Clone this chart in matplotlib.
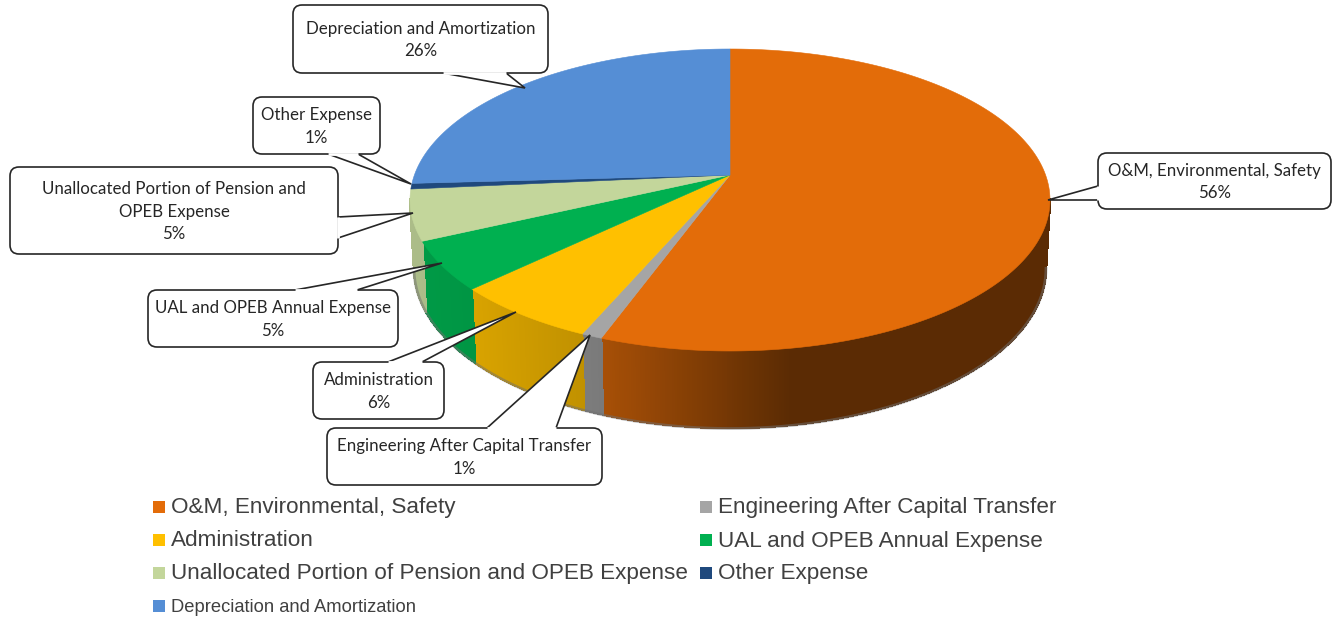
import numpy as np
import matplotlib
matplotlib.use("Agg")
import matplotlib.pyplot as plt
from matplotlib.patches import FancyBboxPatch, Polygon, Rectangle
from matplotlib.collections import PolyCollection
from matplotlib.colors import to_rgb

categories = ["O&M, Environmental, Safety", "Engineering After Capital Transfer", "Administration",
              "UAL and OPEB Annual Expense", "Unallocated Portion of Pension and OPEB Expense",
              "Other Expense", "Depreciation and Amortization"]
# unrounded shares estimated from the slice edges, they round to the printed labels
values = [55.6, 0.9, 6.4, 5.2, 5.4, 0.6, 25.9]
colors = ["#E36C09", "#A5A5A5", "#FFC000", "#00B050", "#C3D69B", "#1F497D", "#558ED5"]

# text of each callout, wrapped the way the reference wraps it
callout_names = ["O&M, Environmental, Safety", "Engineering After Capital Transfer", "Administration",
                 "UAL and OPEB Annual Expense", "Unallocated Portion of Pension and\nOPEB Expense",
                 "Other Expense", "Depreciation and Amortization"]

# layout, in image pixels: box (x0, y0, x1, y1) and pointer (base a, tip, base b)
callout_boxes = [(1098, 153, 1331, 209), (327, 428, 602, 485), (313, 362, 444, 419), (148, 290, 398, 347),
                 (10, 167, 338, 254), (253, 97, 380, 154), (293, 5, 548, 73)]
callout_pointers = [[(1098, 186), (1048, 200), (1098, 200)], [(487, 428), (590, 335), (556, 428)],
                    [(388, 362), (516, 312), (422, 362)], [(295, 290), (442, 263), (357, 290)],
                    [(338, 217), (413, 213), (338, 238)], [(328, 154), (411, 184), (358, 154)],
                    [(443, 73), (525, 88), (506, 73)]]

# pie geometry: a tilted disc, so the apex sits above the centre of the rim ellipse
CX, CY = 730, 200
RX, RY = 320, 151
APEX = 25
DEPTH = 68
TILT = APEX / RY
LINE = "#262626"
LABEL_FONT = ["Lato", "DejaVu Sans"]
LEGEND_FONT = ["Liberation Sans", "DejaVu Sans"]


def rim(theta):
    # theta runs clockwise from the top of the pie
    x, y = np.sin(theta), np.cos(theta)
    d = 1 + TILT * y
    return RX * np.sqrt(1 - TILT ** 2) * x / d, (RY * y + APEX) / d


def top_xy(theta):
    x, y = rim(theta)
    return CX + x, CY - y


def bottom_xy(theta):
    x, y = rim(theta)
    return CX + x * 0.9875, CY + DEPTH - y * 160 / 151


def wall_shade(x):
    return np.interp(x, [410, 470, 600, 790, 1050], [0.88, 0.85, 0.74, 0.4, 0.4])


fig = plt.figure(figsize=(13.33, 6.2), dpi=100)
ax = fig.add_axes([0, 0, 1, 1])
ax.set_xlim(0, 1333)
ax.set_ylim(620, 0)
ax.axis("off")

edges = np.cumsum([0] + values) / sum(values) * 2 * np.pi

# side wall, from strips along the rim, only on the front of the disc
polys, poly_colors = [], []
for start, stop, color in zip(edges[:-1], edges[1:], colors):
    n = max(int((stop - start) * 150), 3)
    t = np.linspace(start, stop, n + 1)
    tx, ty = top_xy(t)
    bx, by = bottom_xy(t)
    for i in range(n):
        if ty[i] < CY and ty[i + 1] < CY:
            continue
        polys.append([(tx[i], ty[i]), (tx[i + 1], ty[i + 1]), (bx[i + 1], by[i + 1]), (bx[i], by[i])])
        poly_colors.append(np.array(to_rgb(color)) * wall_shade((tx[i] + tx[i + 1]) / 2))
ax.add_collection(PolyCollection(polys, facecolors=poly_colors, edgecolors=poly_colors, linewidths=1,
                                 antialiaseds=False, zorder=2))

# soft edge under the wall
tt = np.linspace(np.pi / 2 + TILT, 3 * np.pi / 2 - TILT, 300)
bx, by = bottom_xy(tt)
ax.plot(bx, by + 0.5, color="#707070", lw=2, alpha=0.5, zorder=2.5)

# top of the pie
for start, stop, color in zip(edges[:-1], edges[1:], colors):
    t = np.linspace(start, stop, max(int((stop - start) * 100), 4))
    tx, ty = top_xy(t)
    pts = [(CX, CY - APEX)] + list(zip(tx, ty))
    ax.add_patch(Polygon(pts, closed=True, facecolor=color, edgecolor=color, lw=0.4, zorder=3))

# callouts
for name, value, box, ptr in zip(callout_names, values, callout_boxes, callout_pointers):
    x0, y0, x1, y1 = box
    ax.add_patch(FancyBboxPatch((x0 + 8, y0 + 8), x1 - x0 - 16, y1 - y0 - 16, boxstyle="round,pad=8,rounding_size=9",
                                facecolor="white", edgecolor=LINE, lw=1.2, zorder=4))
    ax.add_patch(Polygon(ptr, closed=False, facecolor="white", edgecolor=LINE, lw=1.2, zorder=5))
    ax.plot([ptr[0][0], ptr[2][0]], [ptr[0][1], ptr[2][1]], color="white", lw=2, solid_capstyle="butt", zorder=6)
    ax.text((x0 + x1) / 2, (y0 + y1) / 2 + 1, f"{name}\n{value:.0f}%", ha="center", va="center", family=LABEL_FONT,
            fontsize=12.2, color="#262626", linespacing=1.47, zorder=7)

# legend, filled column by column
legend_rows = [508, 541, 574, 607, 508, 541, 574]
legend_x = [153, 153, 153, 153, 700, 700, 700]
legend_sizes = [16.2, 16.2, 16.2, 13.2, 16.2, 16.2, 16.2]
order = [0, 2, 4, 6, 1, 3, 5]
for k, i in enumerate(order):
    ax.add_patch(Rectangle((legend_x[k], legend_rows[k] - 7), 12, 12, facecolor=colors[i], edgecolor="none", zorder=4))
    ax.text(legend_x[k] + 18, legend_rows[k], categories[i], ha="left", va="center", family=LEGEND_FONT,
            fontsize=legend_sizes[k], color="#404040", zorder=4)

fig.savefig("out.png", dpi=100)
